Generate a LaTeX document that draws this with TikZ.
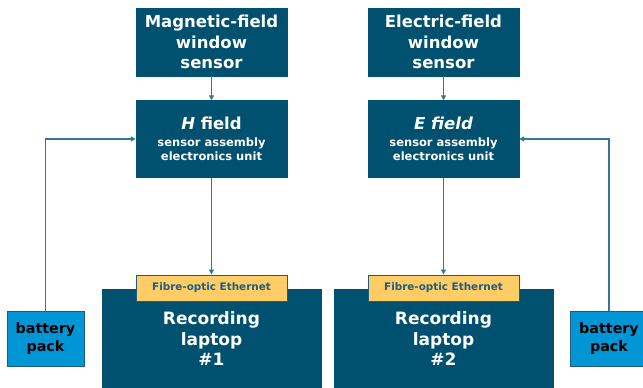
\documentclass[tikz,border=0pt]{standalone}
\usepackage{fontspec}
\setmainfont{DejaVu Sans}
\usetikzlibrary{arrows.meta}
\definecolor{unitblue}{HTML}{00506F}
\definecolor{packblue}{HTML}{0096D6}
\definecolor{linkline}{HTML}{3A7394}
\definecolor{tagyellow}{HTML}{FFCC66}
\definecolor{tagedge}{HTML}{1F5E80}
\tikzset{
  unit/.style={fill=unitblue, draw=unitblue, text=white, inner sep=0pt,
    align=center, minimum width=151pt},
  sensor/.style={unit, minimum height=68pt,
    font=\fontsize{16.5}{20.5}\selectfont\bfseries},
  electronics/.style={unit, minimum height=77pt,
    font=\fontsize{11.5}{14}\selectfont\bfseries},
  laptop/.style={fill=unitblue, draw=unitblue, text=white, inner sep=0pt,
    align=center, minimum width=219pt, minimum height=100pt,
    font=\fontsize{17}{20.5}\selectfont\bfseries},
  tag/.style={fill=tagyellow, draw=tagedge, line width=0.8pt, text=tagedge,
    inner sep=0pt, minimum width=151pt, minimum height=26pt,
    font=\fontsize{10.4}{12}\selectfont\bfseries},
  pack/.style={fill=packblue, draw=tagedge, line width=0.8pt, text=black,
    inner sep=0pt, align=center, minimum width=77pt, minimum height=55pt,
    font=\fontsize{14.3}{18}\selectfont\bfseries},
  link/.style={draw=linkline, line width=1.3pt,
    -{Triangle[length=5pt,width=5pt]}},
}
\newcommand{\unittitle}{\fontsize{16.5}{20}\selectfont\bfseries}
\begin{document}
\begin{tikzpicture}[x=1pt,y=-1pt]
\useasboundingbox (0,0) rectangle (643,388);

% sensors
\node[sensor] (mag) at (211.5,42) {Magnetic-field\\window\\sensor};
\node[sensor] (ele) at (443.5,42) {Electric-field\\window\\sensor};

% sensor assembly electronics units
\node[electronics] (hunit) at (211.5,139)
  {{\unittitle\itshape H\/\upshape\ field}\\[3pt]
   sensor assembly\\electronics unit};
\node[electronics] (eunit) at (443.5,139)
  {{\unittitle\itshape E field}\\[3pt]
   sensor assembly\\electronics unit};

% recording laptops with their network interfaces
\node[laptop] (lap1) at (211.5,339) {Recording\\laptop\\\#1};
\node[laptop] (lap2) at (443.5,339) {Recording\\laptop\\\#2};
\node[tag] (eth1) at (211.5,288) {Fibre-optic Ethernet};
\node[tag] (eth2) at (443.5,288) {Fibre-optic Ethernet};

% battery packs
\node[pack] (bat1) at (45.5,338.5) {battery\\pack};
\node[pack] (bat2) at (609,338.5) {battery\\pack};

% signal and power connections
\draw[link] (mag.south) -- (hunit.north);
\draw[link] (ele.south) -- (eunit.north);
\draw[link] (hunit.south) -- (eth1.north);
\draw[link] (eunit.south) -- (eth2.north);
\draw[link] (bat1.north) |- (hunit.west);
\draw[link] (bat2.north) |- (eunit.east);
\end{tikzpicture}
\end{document}
